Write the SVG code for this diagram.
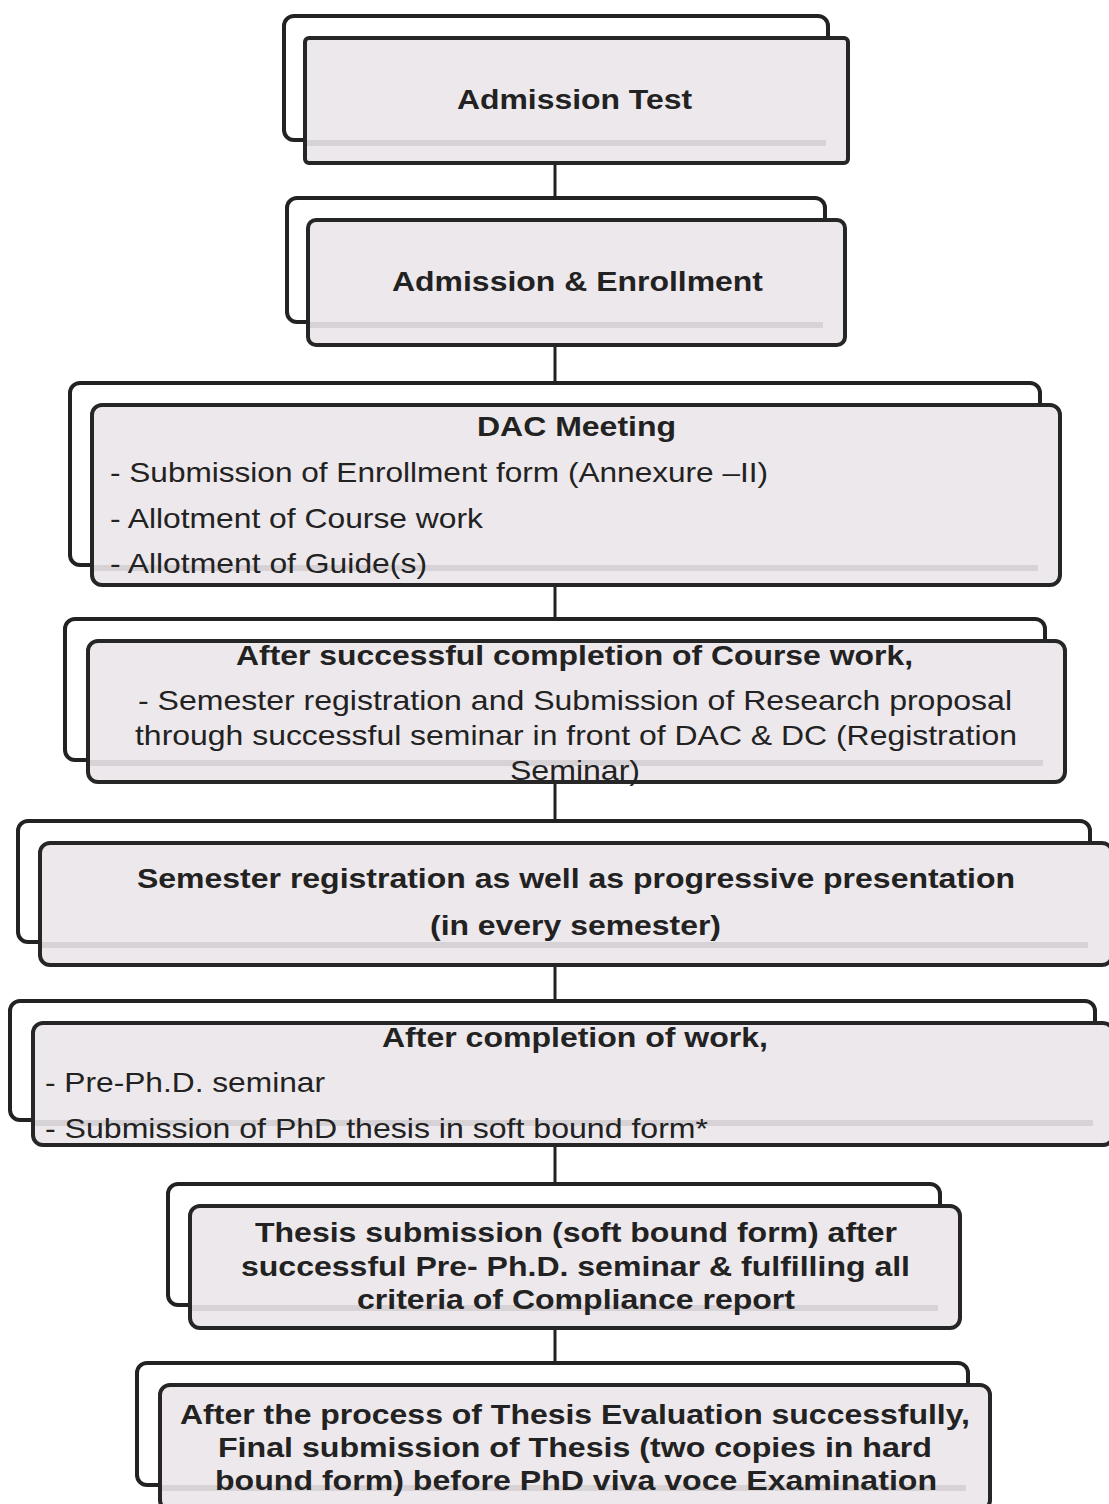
<svg xmlns="http://www.w3.org/2000/svg" width="1109" height="1504" viewBox="0 0 1109 1504">
<style>
.back{fill:#ffffff;stroke:#222;stroke-width:4}
.front{fill:#ede8eb;stroke:#262626;stroke-width:4}
.sh{stroke:#bdb8bb;stroke-width:6;opacity:0.45}
.b{font-family:"Liberation Sans",Arial,sans-serif;font-weight:bold;font-size:28px;fill:#222}
.r{font-family:"Liberation Sans",Arial,sans-serif;font-size:28px;fill:#222}
.conn{stroke:#222;stroke-width:3;fill:none}
</style>
<g id="connectors">
<line class="conn" x1="555" y1="163" x2="555" y2="199"/>
<line class="conn" x1="555" y1="345" x2="555" y2="384"/>
<line class="conn" x1="555" y1="585" x2="555" y2="620"/>
<line class="conn" x1="555" y1="782" x2="555" y2="822"/>
<line class="conn" x1="555" y1="965" x2="555" y2="1002"/>
<line class="conn" x1="555" y1="1145" x2="555" y2="1185"/>
<line class="conn" x1="555" y1="1328" x2="555" y2="1364"/>
</g>
<g id="n1">
<rect class="back" x="284" y="16" width="544" height="124" rx="10"/>
<rect class="front" x="305" y="38" width="543" height="125" rx="4"/>
<line class="sh" x1="307" y1="143" x2="826" y2="143"/>
<text class="b" x="457" y="109" textLength="235" lengthAdjust="spacingAndGlyphs">Admission Test</text>
</g>
<g id="n2">
<rect class="back" x="287" y="198" width="538" height="124" rx="10"/>
<rect class="front" x="308" y="220" width="537" height="125" rx="8"/>
<line class="sh" x1="310" y1="325" x2="823" y2="325"/>
<text class="b" x="392" y="291" textLength="371" lengthAdjust="spacingAndGlyphs">Admission &amp; Enrollment</text>
</g>
<g id="n3">
<rect class="back" x="70" y="383" width="970" height="182" rx="10"/>
<rect class="front" x="92" y="405" width="968" height="180" rx="10"/>
<line class="sh" x1="94" y1="568" x2="1038" y2="568"/>
<text class="b" x="477" y="436" textLength="199" lengthAdjust="spacingAndGlyphs">DAC Meeting</text>
<text class="r" x="110" y="482" textLength="658" lengthAdjust="spacingAndGlyphs">- Submission of Enrollment form (Annexure –II)</text>
<text class="r" x="110" y="528" textLength="373" lengthAdjust="spacingAndGlyphs">- Allotment of Course work</text>
<text class="r" x="110" y="573" textLength="317" lengthAdjust="spacingAndGlyphs">- Allotment of Guide(s)</text>
</g>
<g id="n4">
<rect class="back" x="65" y="619" width="980" height="141" rx="10"/>
<rect class="front" x="88" y="641" width="977" height="141" rx="10"/>
<line class="sh" x1="90" y1="763" x2="1043" y2="763"/>
<text class="b" x="236" y="665" textLength="677" lengthAdjust="spacingAndGlyphs">After successful completion of Course work,</text>
<text class="r" x="138" y="710" textLength="874" lengthAdjust="spacingAndGlyphs">- Semester registration and Submission of Research proposal</text>
<text class="r" x="135" y="745" textLength="882" lengthAdjust="spacingAndGlyphs">through successful seminar in front of DAC &amp; DC (Registration</text>
<text class="r" x="510" y="780" textLength="130" lengthAdjust="spacingAndGlyphs">Seminar)</text>
</g>
<g id="n5">
<rect class="back" x="18" y="821" width="1072" height="121" rx="10"/>
<rect class="front" x="40" y="843" width="1072" height="122" rx="10"/>
<line class="sh" x1="42" y1="945" x2="1088" y2="945"/>
<text class="b" x="137" y="888" textLength="878" lengthAdjust="spacingAndGlyphs">Semester registration as well as progressive presentation</text>
<text class="b" x="430" y="935" textLength="291" lengthAdjust="spacingAndGlyphs">(in every semester)</text>
</g>
<g id="n6">
<rect class="back" x="10" y="1001" width="1085" height="119" rx="10"/>
<rect class="front" x="33" y="1023" width="1080" height="122" rx="10"/>
<line class="sh" x1="35" y1="1123" x2="1093" y2="1123"/>
<text class="b" x="382" y="1047" textLength="386" lengthAdjust="spacingAndGlyphs">After completion of work,</text>
<text class="r" x="45" y="1092" textLength="280" lengthAdjust="spacingAndGlyphs">- Pre-Ph.D. seminar</text>
<text class="r" x="45" y="1138" textLength="663" lengthAdjust="spacingAndGlyphs">- Submission of PhD thesis in soft bound form*</text>
</g>
<g id="n7">
<rect class="back" x="168" y="1184" width="772" height="121" rx="10"/>
<rect class="front" x="190" y="1206" width="770" height="122" rx="10"/>
<line class="sh" x1="192" y1="1308" x2="938" y2="1308"/>
<text class="b" x="255" y="1242" textLength="642" lengthAdjust="spacingAndGlyphs">Thesis submission (soft bound form) after</text>
<text class="b" x="241" y="1276" textLength="669" lengthAdjust="spacingAndGlyphs">successful Pre- Ph.D. seminar &amp; fulfilling all</text>
<text class="b" x="357" y="1309" textLength="438" lengthAdjust="spacingAndGlyphs">criteria of Compliance report</text>
</g>
<g id="n8">
<rect class="back" x="137" y="1363" width="831" height="122" rx="10"/>
<rect class="front" x="160" y="1385" width="830" height="125" rx="10"/>
<line class="sh" x1="162" y1="1488" x2="966" y2="1488"/>
<text class="b" x="180" y="1424" textLength="790" lengthAdjust="spacingAndGlyphs">After the process of Thesis Evaluation successfully,</text>
<text class="b" x="218" y="1457" textLength="714" lengthAdjust="spacingAndGlyphs">Final submission of Thesis (two copies in hard</text>
<text class="b" x="215" y="1490" textLength="722" lengthAdjust="spacingAndGlyphs">bound form) before PhD viva voce Examination</text>
</g>
</svg>
